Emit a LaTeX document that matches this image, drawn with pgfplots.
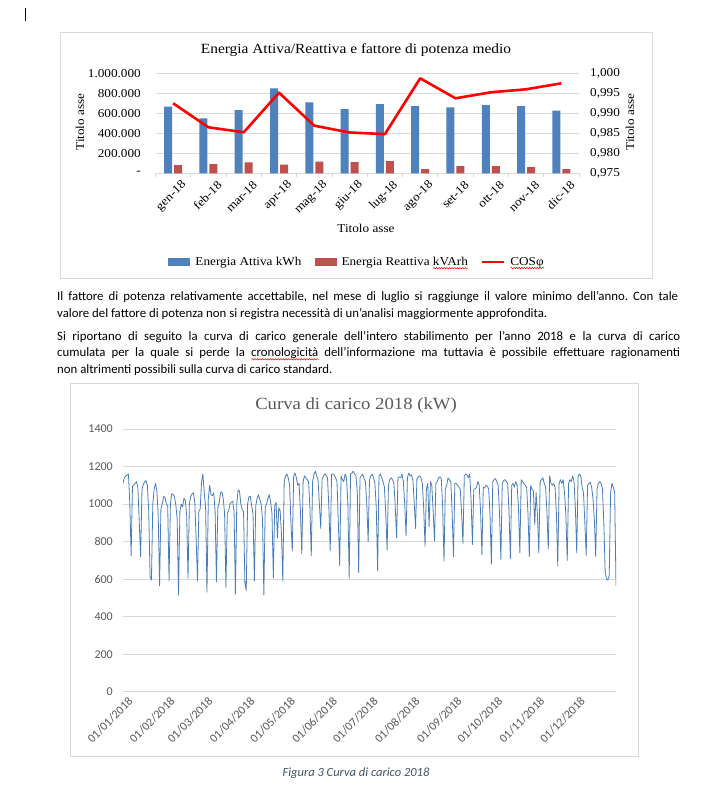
\documentclass[border=0pt]{standalone}
\usepackage{pgfplots}
\pgfplotsset{compat=1.18}
\usetikzlibrary{decorations.pathmorphing}
\usepackage{fontspec}
\setmainfont{Carlito}
\newfontfamily\chartserif[FakeStretch=1.1]{Liberation Serif}
\definecolor{barblue}{HTML}{4F81BD}
\definecolor{barred}{HTML}{C0504D}
\definecolor{gridgray}{HTML}{D9D9D9}
\definecolor{txtgray}{HTML}{595959}
\definecolor{lineblue}{HTML}{4A7EBB}
\definecolor{captcol}{HTML}{44546A}
\newcommand\redwave[1]{\setbox0\hbox{#1}\rlap{\tikz[baseline=0pt]{\draw[red, line width=0.5pt, decorate, decoration={snake, amplitude=0.7pt, segment length=2.6pt}] (0pt,-2.8pt) -- (\wd0,-2.8pt);}}\box0\relax}
\newcommand\fs[1]{\fontsize{#1}{#1}\selectfont}
\frenchspacing

\pgfplotstableread{
m   act     rea     cos
0   666000  83000   0.9925
1   550000  93000   0.9865
2   633000  110000  0.98525
3   850000  86000   0.99515
4   710000  116000  0.9869
5   643000  112000  0.9852
6   693000  122000  0.9848
7   673000  43000   0.99875
8   660000  73000   0.99375
9   683000  73000   0.99525
10  673000  63000   0.9960
11  626000  43000   0.9975
}\energy

\begin{document}
\begin{tikzpicture}[x=1pt,y=-1pt]
\fill[white] (0,0) rectangle (703,790);
% text cursor
\draw[line width=0.8pt] (25.5,8) -- (25.5,21);

% ---------- top chart ----------
\draw[gridgray, line width=0.8pt] (60,32) rectangle (652,278);
\node[font=\chartserif\fs{14}] at (356,50) {Energia Attiva/Reattiva e fattore di potenza medio};

\begin{axis}[
  at={(155.5pt,-173.3pt)}, anchor=south west,
  scale only axis, width=423.5pt, height=100pt,
  ybar=2pt, bar width=8pt,
  xmin=-0.5, xmax=11.5, ymin=0, ymax=1000000,
  xtick={0,...,11},
  xticklabels={gen-18,feb-18,mar-18,apr-18,mag-18,giu-18,lug-18,ago-18,set-18,ott-18,nov-18,dic-18},
  minor xtick={-0.5,0.5,...,11.5},
  ytick={0,200000,400000,600000,800000,1000000},
  yticklabels={-,200.000,400.000,600.000,800.000,1.000.000},
  scaled y ticks=false,
  axis x line*=bottom, axis y line*=left,
  ymajorgrids, grid style={gridgray, line width=0.8pt},
  x axis line style={gridgray, line width=0.8pt, -},
  y axis line style={draw=none},
  major tick length=0pt, minor tick length=4pt, tick align=outside,
  minor tick style={gridgray, line width=0.8pt},
  tick label style={font=\chartserif\fs{12}},
  xticklabel style={rotate=45, anchor=east, inner sep=0pt, yshift=-15pt, xshift=1pt},
  yticklabel style={anchor=east, inner sep=0pt, xshift=-14.5pt},
  legend style={at={(0.476,-0.887)}, anchor=center, draw=none, fill=none,
    legend columns=3, font=\chartserif\fs{12},
    /tikz/every odd column/.append style={column sep=3pt},
    /tikz/every even column/.append style={column sep=11pt}},
]
\addplot[fill=barblue, draw=none,
  legend image code/.code={\fill[barblue] (0pt,-4pt) rectangle (22pt,4pt);}]
  table[x=m, y=act] {\energy};
\addlegendentry{Energia Attiva kWh}
\addplot[fill=barred, draw=none,
  legend image code/.code={\fill[barred] (0pt,-4pt) rectangle (22pt,4pt);}]
  table[x=m, y=rea] {\energy};
\addlegendentry{Energia Reattiva \redwave{kVArh}}
\addlegendimage{legend image code/.code={\draw[red, line width=2.5pt] (0pt,0pt) -- (22pt,0pt);}}
\addlegendentry{\redwave{COSφ}}
\end{axis}

\begin{axis}[
  at={(155.5pt,-173.3pt)}, anchor=south west,
  scale only axis, width=423.5pt, height=100pt,
  xmin=-0.5, xmax=11.5, ymin=0.975, ymax=1.000,
  axis x line=none, axis y line*=right,
  y axis line style={draw=none},
  major tick length=0pt,
  ytick={0.975,0.98,0.985,0.99,0.995,1},
  yticklabels={{0,975},{0,980},{0,985},{0,990},{0,995},{1,000}},
  tick label style={font=\chartserif\fs{12}},
  yticklabel style={anchor=west, inner sep=0pt, xshift=11pt},
]
\addplot[red, line width=2.6pt, line join=round] table[x=m, y=cos] {\energy};
\end{axis}

\node[font=\chartserif\fs{12}] at (366,228) {Titolo asse};
\node[font=\chartserif\fs{12}, rotate=90] at (80,122) {Titolo asse};
\node[font=\chartserif\fs{12}, rotate=90] at (630,122) {Titolo asse};

% ---------- paragraph ----------
\node[anchor=base west, inner sep=0pt, font=\fs{12.8}] at (57,300) {\makebox[621pt][s]{Il fattore di potenza relativamente accettabile, nel mese di luglio si raggiunge il valore minimo dell’anno. Con tale}};
\node[anchor=base west, inner sep=0pt, font=\fs{12.8}] at (57,317) {valore del fattore di potenza non si registra necessità di un’analisi maggiormente approfondita.};
\node[anchor=base west, inner sep=0pt, font=\fs{12.8}] at (57,340) {\makebox[623pt][s]{Si riportano di seguito la curva di carico generale dell’intero stabilimento per l’anno 2018 e la curva di carico}};
\node[anchor=base west, inner sep=0pt, font=\fs{12.8}] at (57,356.5) {\makebox[623pt][s]{cumulata per la quale si perde la \redwave{cronologicità} dell’informazione ma tuttavia è possibile effettuare ragionamenti}};
\node[anchor=base west, inner sep=0pt, font=\fs{12.8}] at (57,373) {non altrimenti possibili sulla curva di carico standard.};

% ---------- bottom chart ----------
\draw[gridgray, line width=0.8pt] (70,383) rectangle (638,756);
\node[font=\chartserif\fs{17}, text=txtgray] at (356,405) {Curva di carico 2018 (kW)};

\begin{axis}[
  at={(123pt,-691.7pt)}, anchor=south west,
  scale only axis, width=493pt, height=262.7pt,
  xmin=0, xmax=364, ymin=0, ymax=1400,
  ytick={0,200,400,600,800,1000,1200,1400},
  xtick={0,31,59,90,120,151,181,212,243,273,304,334},
  xticklabels={01/01/2018,01/02/2018,01/03/2018,01/04/2018,01/05/2018,01/06/2018,01/07/2018,01/08/2018,01/09/2018,01/10/2018,01/11/2018,01/12/2018},
  ymajorgrids, grid style={gridgray, line width=0.8pt},
  axis line style={draw=none}, major tick length=0pt,
  /pgf/number format/assume math mode=true,
  /pgf/number format/1000 sep={},
  tick label style={font=\fs{12}, text=txtgray},
  yticklabel style={anchor=east, inner sep=0pt, xshift=-10pt},
  xticklabel style={rotate=45, anchor=east, inner sep=0pt, yshift=-11pt},
]
\addplot[lineblue, line width=0.8pt, line join=round] coordinates {
(0,1110) (1,1140) (2,1150) (3,1155) (4,1160) (5,1010) (6,725)
(7,1095) (8,1100) (9,1110) (10,1120) (11,1085) (12,905) (13,720)
(14,1075) (15,1105) (16,1120) (17,1125) (18,1100) (19,960) (20,615)
(21,595) (22,1000) (23,1080) (24,1110) (25,1070) (26,940) (27,565)
(28,975) (29,1000) (30,1040) (31,1035) (32,1000) (33,990) (34,590)
(35,1000) (36,1055) (37,1050) (38,1040) (39,995) (40,920) (41,515)
(42,960) (43,1000) (44,985) (45,1030) (46,1020) (47,940) (48,605)
(49,1000) (50,1040) (51,1055) (52,1060) (53,1010) (54,815) (55,590)
(56,960) (57,975) (58,1120) (59,1160) (60,1060) (61,980) (62,530)
(63,1030) (64,1100) (65,1050) (66,1045) (67,1060) (68,960) (69,585)
(70,980) (71,1005) (72,1060) (73,1065) (74,1030) (75,950) (76,555)
(77,950) (78,965) (79,1000) (80,1010) (81,1015) (82,960) (83,520)
(84,1000) (85,1075) (86,1070) (87,1000) (88,970) (89,960) (90,580)
(91,540) (92,1000) (93,1040) (94,1040) (95,990) (96,950) (97,590)
(98,990) (99,1030) (100,1050) (101,1025) (102,1000) (103,920) (104,515)
(105,985) (106,1000) (107,1030) (108,1050) (109,1010) (110,950) (111,605)
(112,990) (113,1010) (114,820) (115,980) (116,965) (117,840) (118,590)
(119,1120) (120,1150) (121,1160) (122,1140) (123,1100) (124,900) (125,750)
(126,1150) (127,1165) (128,1140) (129,1100) (130,1110) (131,960) (132,735)
(133,1120) (134,1150) (135,1140) (136,1130) (137,1120) (138,980) (139,725)
(140,1120) (141,1160) (142,1175) (143,1150) (144,1130) (145,1000) (146,870)
(147,1130) (148,1150) (149,1160) (150,1155) (151,1140) (152,980) (153,750)
(154,1160) (155,1160) (156,1155) (157,1140) (158,1120) (159,900) (160,670)
(161,1150) (162,1130) (163,1120) (164,1160) (165,1140) (166,1010) (167,605)
(168,1160) (169,1165) (170,1175) (171,1160) (172,1150) (173,1060) (174,635)
(175,1140) (176,1150) (177,1160) (178,1135) (179,1120) (180,1000) (181,800)
(182,1130) (183,1150) (184,1160) (185,1140) (186,1110) (187,980) (188,645)
(189,1150) (190,1160) (191,1140) (192,1120) (193,1090) (194,950) (195,755)
(196,1100) (197,1130) (198,1140) (199,1130) (200,1110) (201,990) (202,820)
(203,1140) (204,1145) (205,1140) (206,1160) (207,1120) (208,1000) (209,830)
(210,1140) (211,1165) (212,1150) (213,1155) (214,1130) (215,1010) (216,870)
(217,1135) (218,1145) (219,1150) (220,1140) (221,1110) (222,980) (223,775)
(224,1080) (225,1110) (226,880) (227,1120) (228,1100) (229,960) (230,805)
(231,1110) (232,1120) (233,1140) (234,1145) (235,1135) (236,990) (237,695)
(238,1080) (239,1100) (240,1140) (241,1130) (242,1120) (243,960) (244,720)
(245,1110) (246,1110) (247,1100) (248,1090) (249,1080) (250,950) (251,790)
(252,1150) (253,1160) (254,1155) (255,1140) (256,1160) (257,1020) (258,785)
(259,1080) (260,1080) (261,1090) (262,1120) (263,1100) (264,960) (265,730)
(266,1090) (267,1085) (268,1100) (269,1095) (270,1080) (271,940) (272,680)
(273,1120) (274,1130) (275,1135) (276,1120) (277,1100) (278,950) (279,705)
(280,1110) (281,1125) (282,1130) (283,1120) (284,1110) (285,960) (286,710)
(287,1100) (288,1110) (289,1090) (290,1120) (291,1100) (292,980) (293,740)
(294,1130) (295,1120) (296,1110) (297,1100) (298,1090) (299,950) (300,720)
(301,1100) (302,1080) (303,1070) (304,890) (305,1060) (306,940) (307,740)
(308,1120) (309,1130) (310,1140) (311,1110) (312,1090) (313,960) (314,760)
(315,1150) (316,1110) (317,1100) (318,1110) (319,1090) (320,950) (321,670)
(322,1110) (323,1130) (324,1110) (325,1130) (326,1060) (327,940) (328,700)
(329,1110) (330,1130) (331,1120) (332,1150) (333,1120) (334,980) (335,740)
(336,1150) (337,1160) (338,1150) (339,1090) (340,1060) (341,900) (342,725)
(343,1100) (344,1110) (345,1115) (346,1090) (347,1030) (348,920) (349,720)
(350,1080) (351,1110) (352,1120) (353,1110) (354,1080) (355,900) (356,640)
(357,600) (358,595) (359,620) (360,1060) (361,1110) (362,1090) (363,1060)
(364,565)
};
\end{axis}

\node[font=\itshape\fs{12.5}, text=captcol] at (356,773) {Figura 3 Curva di carico 2018};

\pgfresetboundingbox
\useasboundingbox (0,0) rectangle (703,790);
\end{tikzpicture}
\end{document}
